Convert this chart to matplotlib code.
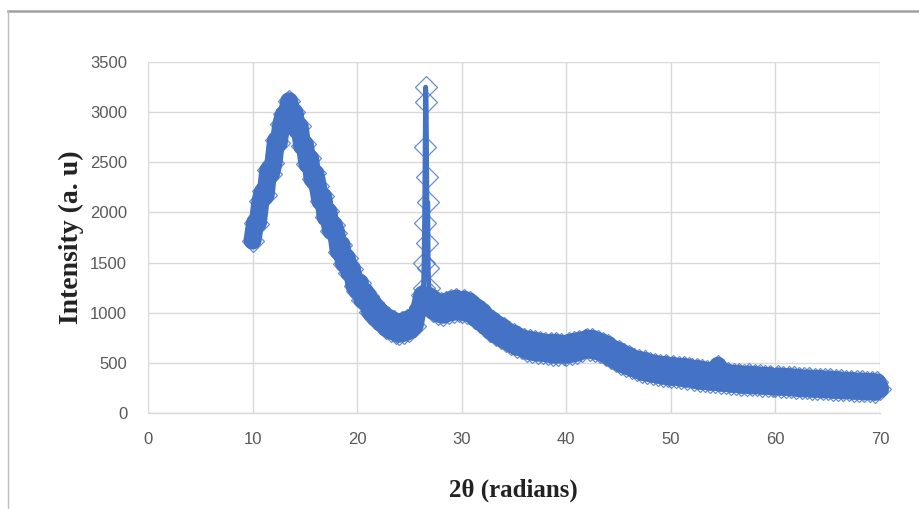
import numpy as np
import matplotlib
matplotlib.use("Agg")
import matplotlib.pyplot as plt
from matplotlib.lines import Line2D

# ---- XRD pattern data -------------------------------------------------
# 2θ sampled every 0.25° from 10.00 to 26.25
two_theta_a = np.arange(10.0, 26.26, 0.25)
intensity_a = [
    1720, 1900, 1890, 2110,
    2210, 2170, 2420, 2380,
    2490, 2720, 2690, 2880,
    2980, 2930, 3110, 2990,
    3000, 2820, 2860, 2660,
    2680, 2480, 2540, 2330,
    2390, 2260, 2110, 2160,
    1950, 2010, 1820, 1880,
    1800, 1610, 1680, 1490,
    1550, 1400, 1440, 1270,
    1220, 1300, 1130, 1210,
    1170, 1010, 1100, 950,
    1040, 900, 990, 850,
    950, 820, 920, 800,
    790, 910, 800, 930,
    820, 950, 870, 1010,
    1060, 1180,
]

# sharp reflection near 26.6°
two_theta_peak = [26.30, 26.35, 26.40, 26.45, 26.50, 26.55, 26.60,
                  26.65, 26.70, 26.75, 26.80, 26.85, 26.90, 26.95]
intensity_peak = [1120, 1250, 1500, 1900, 2650, 3250, 3100,
                  2350, 1700, 2100, 1450, 1250, 1150, 1080]

# 2θ sampled every 0.25° from 27.00 to 70.00
two_theta_b = np.arange(27.0, 70.01, 0.25)
intensity_b = [
    1160, 1020, 1120, 990,
    1100, 980, 1110, 1000,
    1130, 1010, 1140, 1020,
    1010, 1130, 1000, 1110,
    1090, 950, 1050, 910,
    1010, 870, 950, 820,
    920, 780, 880, 750,
    850, 720, 810, 690,
    790, 660, 760, 650,
    740, 620, 730, 610,
    720, 600, 710, 600,
    700, 590, 700, 580,
    700, 580, 690, 590,
    580, 700, 590, 710,
    600, 720, 620, 730,
    740, 630, 740, 620,
    720, 610, 700, 580,
    680, 550, 640, 520,
    620, 490, 590, 470,
    570, 450, 540, 430,
    530, 410, 520, 400,
    500, 390, 490, 380,
    480, 370, 480, 370,
    360, 470, 360, 460,
    350, 460, 340, 450,
    440, 330, 440, 320,
    430, 320, 420, 310,
    410, 310, 470, 300,
    400, 300, 400, 290,
    390, 290, 390, 280,
    380, 280, 385, 275,
    380, 275, 375, 270,
    370, 270, 370, 265,
    265, 365, 260, 360,
    260, 360, 255, 355,
    250, 350, 245, 345,
    245, 345, 240, 340,
    240, 340, 235, 335,
    235, 335, 230, 330,
    230, 325, 225, 320,
    225, 320, 220, 315,
    220, 315, 215, 310,
    215, 310, 210, 305,
    240,
]

x_ticks = [0, 10, 20, 30, 40, 50, 60, 70]
y_ticks = [0, 500, 1000, 1500, 2000, 2500, 3000, 3500]

x = np.concatenate([two_theta_a, two_theta_peak, two_theta_b])
y = np.concatenate([intensity_a, intensity_peak, intensity_b])
order = np.argsort(x, kind="stable")
x, y = x[order], y[order]

# ---- figure -----------------------------------------------------------
BLUE = "#4472C4"
GRID = "#D9D9D9"
TICK = "#595959"

fig = plt.figure(figsize=(9.19, 5.09), dpi=100)
ax = fig.add_axes([0.161, 0.1886, 0.7966, 0.6894])

# broad band for the noisy background, kept off the narrow reflection
for seg_x, seg_y in ((two_theta_a, intensity_a), (two_theta_b, intensity_b)):
    ax.plot(seg_x, seg_y, color=BLUE, lw=13, solid_joinstyle="round",
            solid_capstyle="round", clip_on=False, zorder=3)
# hollow diamonds on every point, then the thin connecting trace
ax.plot(x, y, linestyle="none", marker="D", markersize=11.5,
        markerfacecolor="none", markeredgecolor=BLUE, markeredgewidth=0.9,
        alpha=0.8, clip_on=False, zorder=4)
ax.plot(x, y, color=BLUE, lw=3.5, clip_on=False, zorder=5)

ax.set_xlim(0, 70)
ax.set_ylim(0, 3500)
ax.set_xticks(x_ticks)
ax.set_yticks(y_ticks)
ax.grid(True, color=GRID, lw=1.0)
ax.set_axisbelow(True)
for side in ("top", "right", "left"):
    ax.spines[side].set_visible(False)
ax.spines["bottom"].set_color(GRID)
ax.spines["bottom"].set_linewidth(1.0)
ax.tick_params(length=0, colors=TICK, labelsize=12)
ax.tick_params(axis="y", pad=15)
ax.tick_params(axis="x", pad=14)
for lab in ax.get_xticklabels() + ax.get_yticklabels():
    lab.set_family(["Liberation Sans", "DejaVu Sans"])

ax.set_xlabel("2θ (radians)", family=["Liberation Serif", "DejaVu Serif"],
              fontweight="bold", fontsize=18, color="#222222")
ax.set_ylabel("Intensity (a. u)", family=["Liberation Serif", "DejaVu Serif"],
              fontweight="bold", fontsize=20, color="#222222")
ax.xaxis.label.set_va("center")
ax.yaxis.label.set_va("center")
ax.xaxis.set_label_coords(0.4986, -0.219)
ax.yaxis.set_label_coords(-0.104, 0.5)

# chart frame
fig.add_artist(Line2D([8 / 919, 1.0], [1 - 11 / 509, 1 - 11 / 509],
                      transform=fig.transFigure, color="#A0A0A0", lw=1.8))
fig.add_artist(Line2D([8 / 919, 8 / 919], [0.0, 1 - 11 / 509],
                      transform=fig.transFigure, color="#BDBDBD", lw=1.0))

fig.savefig("out.png", dpi=100, facecolor="white")
